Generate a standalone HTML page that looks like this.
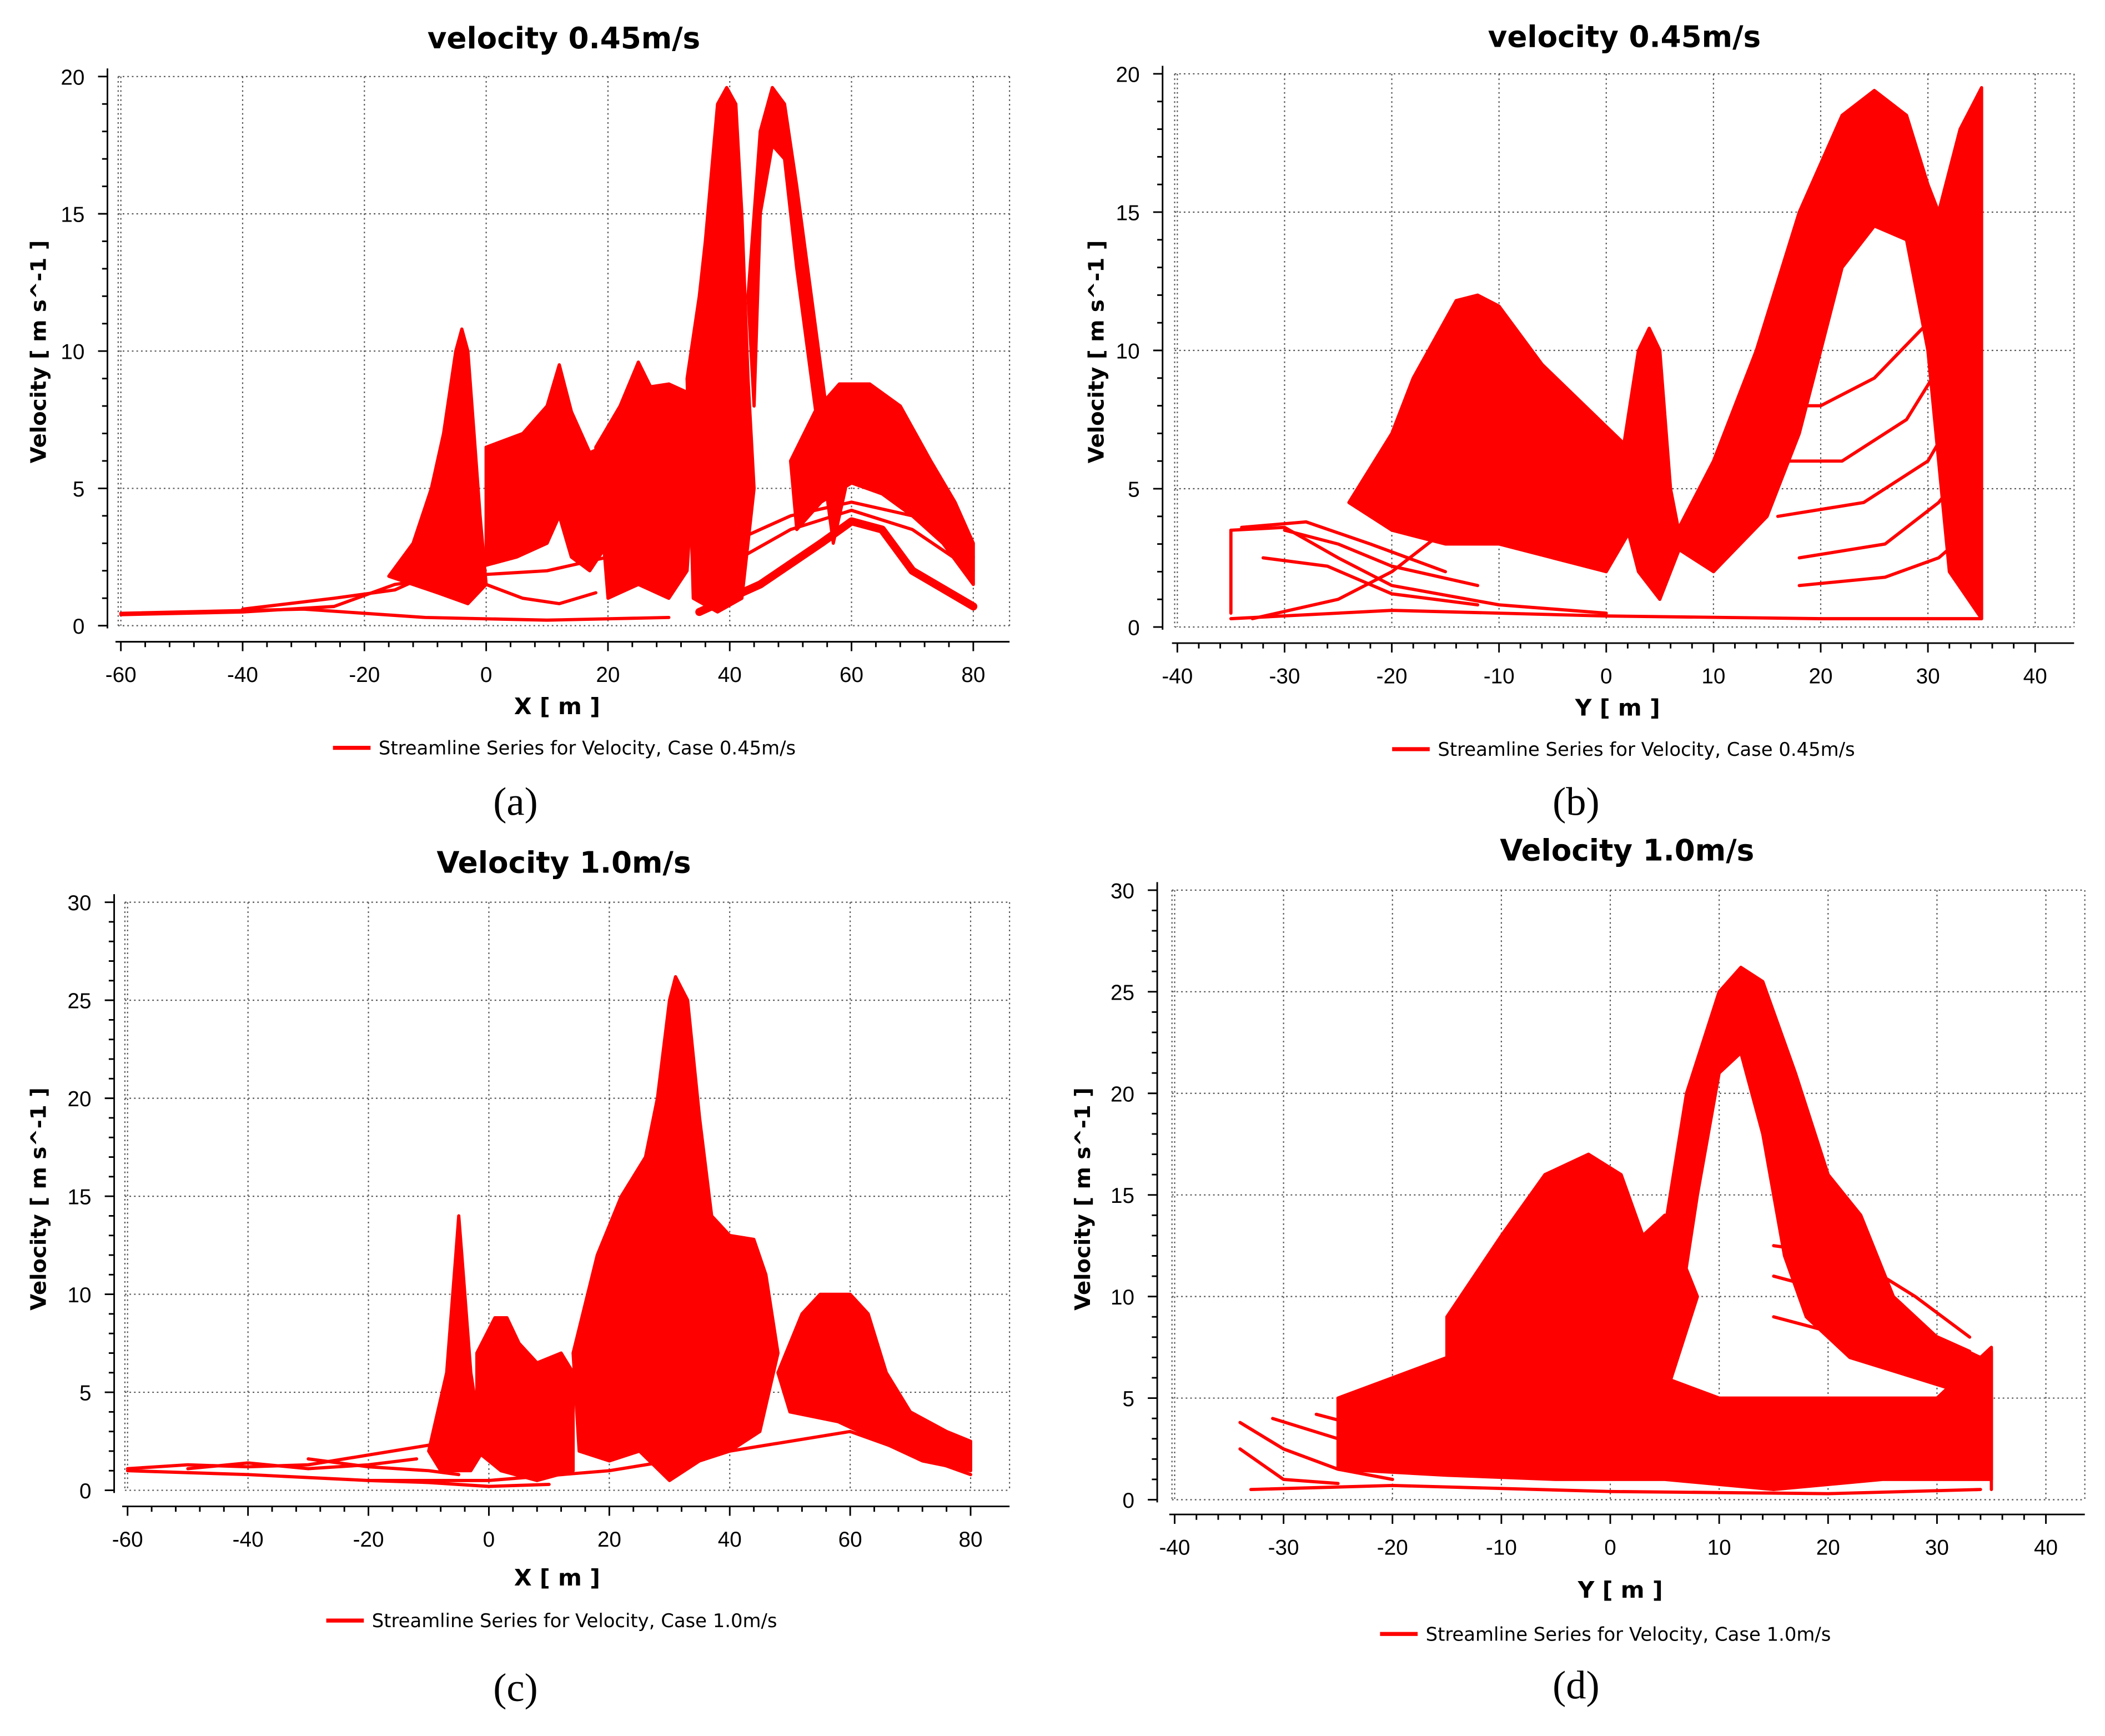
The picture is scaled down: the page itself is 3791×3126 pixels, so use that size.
<!DOCTYPE html>
<html><head><meta charset="utf-8"><style>
html,body{margin:0;padding:0;background:#fff;}
svg{display:block;}
</style></head><body>
<svg id="fig" xmlns="http://www.w3.org/2000/svg" width="3791" height="3126" viewBox="0 0 1568 1293"></svg>
<script>
// ---------- Panel (a) data: X [m] vs Velocity, case 0.45 m/s ----------
const aXTicks = [-60,-40,-20,0,20,40,60,80];
const aYTicks = [0,5,10,15,20];
const aBands = [
 [[-16,1.8],[-12,3],[-9,5],[-7,7],[-5,10],[-4,10.8],[-3,10],[-2,7],[-1,4],[0,1.5],[-3,0.8],[-8,1.2]],
 [[0,6.5],[6,7],[10,8],[12,9.5],[14,7.8],[17,6.3],[20,6.6],[20,3],[17,2],[14,2.5],[12,4],[10,3],[5,2.5],[0,2.2]],
 [[18,6.5],[22,8],[25,9.6],[27,8.7],[30,8.8],[33,8.5],[35,9],[33,2],[30,1],[25,1.5],[20,1]],
 [[33,9],[35,12],[36,14],[38,19],[39.5,19.6],[41,19],[42,15],[43,9],[44,5],[42,1],[38,0.5],[34,1]],
 [[43,12],[45,18],[47,19.6],[49,19],[51,16],[54,11],[57,6],[59,5],[57,3],[54,8],[51,13],[49,17],[47,17.5],[45,15],[44,8]],
 [[50,6],[54,7.8],[58,8.8],[63,8.8],[68,8],[73,6],[77,4.5],[80,3],[80,1.5],[75,3],[70,4],[65,4.8],[60,5.2],[55,4.5],[51,3.5]]
];
const aLines = [
 [[-60,0.4],[-40,0.5],[-25,0.7],[-15,1.5],[-5,1.8],[10,2],[20,2.5]],
 [[-60,0.45],[-30,0.6],[-10,0.3],[10,0.2],[30,0.3]],
 [[-40,0.6],[-25,1],[-15,1.3],[-8,2]],
 [[0,1.5],[6,1],[12,0.8],[18,1.2]],
 [[40,3],[50,4],[60,4.5],[70,4],[80,2.5]],
 [[42,2.5],[50,3.5],[60,4.2],[70,3.5],[80,2]]
];
const aThick = [[35,0.5],[45,1.5],[55,3],[60,3.8],[65,3.5],[70,2],[80,0.7]];

// ---------- Panel (b) data: Y [m] vs Velocity, case 0.45 m/s ----------
const bXTicks = [-40,-30,-20,-10,0,10,20,30,40];
const bYTicks = [0,5,10,15,20];
const bBands = [
 [[-24,4.5],[-20,7],[-18,9],[-14,11.8],[-12,12],[-10,11.6],[-6,9.5],[-2,8],[2,6.5],[3,4],[0,2],[-5,2.5],[-10,3],[-15,3],[-20,3.5]],
 [[1,5],[3,10],[4,10.8],[5,10],[6,5],[7,3],[5,1],[3,2]],
 [[6,3],[10,6],[14,10],[18,15],[22,18.5],[25,19.4],[28,18.5],[30,16],[31,15],[33,18],[35,19.5],[35,0.3],[32,2],[30,10],[28,14],[25,14.5],[22,13],[20,10],[18,7],[15,4],[10,2]]
];
const bLines = [
 [[-35,0.5],[-35,3.5]],
 [[-35,3.5],[-30,3.6],[-25,2.5],[-20,1.5],[-10,0.8],[0,0.5]],
 [[-34,3.6],[-28,3.8],[-22,3],[-15,2]],
 [[-33,0.3],[-25,1],[-20,2],[-15,3.5],[-10,5]],
 [[-32,2.5],[-26,2.2],[-20,1.2],[-12,0.8]],
 [[-30,3.5],[-25,3],[-20,2.2],[-12,1.5]],
 [[-35,0.3],[-20,0.6],[0,0.4],[20,0.3],[35,0.3]],
 [[14,8],[20,8],[25,9],[30,11],[32,12]],
 [[15,6],[22,6],[28,7.5],[32,10]],
 [[16,4],[24,4.5],[30,6],[33,8]],
 [[18,2.5],[26,3],[31,4.5],[34,6]],
 [[18,1.5],[26,1.8],[31,2.5],[34,3.5]],
 [[-12,3],[-10,5],[-6,5.5],[-2,4]],
 [[-14,3],[-10,4.5],[-6,4.8],[-2,3]]
];

// ---------- Panel (c) data: X [m] vs Velocity, case 1.0 m/s ----------
const cXTicks = [-60,-40,-20,0,20,40,60,80];
const cYTicks = [0,5,10,15,20,25,30];
const cBands = [
 [[-10,2],[-7,6],[-5.5,12],[-5,14],[-4.5,12],[-3,6],[-1,2],[-3,1],[-8,1]],
 [[-2,7],[1,8.8],[3,8.8],[5,7.5],[8,6.5],[12,7],[14,6],[14,1],[8,0.5],[2,1],[-2,2]],
 [[14,7],[18,12],[22,15],[26,17],[28,20],[30,25],[31,26.2],[33,25],[35,19],[37,14],[40,13],[44,12.8],[46,11],[48,7],[45,3],[40,2],[35,1.5],[30,0.5],[25,2],[20,1.5],[15,2]],
 [[48,6],[52,9],[55,10],[60,10],[63,9],[66,6],[70,4],[76,3],[80,2.5],[80,1],[72,1.5],[65,2.5],[58,3.5],[50,4]]
];
const cLines = [
 [[-60,1.1],[-50,1.3],[-40,1.2],[-30,1.3],[-20,1.8],[-10,2.3]],
 [[-60,1],[-40,0.8],[-20,0.5],[-10,0.4],[0,0.2],[10,0.3]],
 [[-50,1.1],[-40,1.4],[-30,1.1],[-20,1.3],[-12,1.6]],
 [[-20,0.5],[0,0.5],[20,1],[40,2],[60,3],[80,0.8]],
 [[5,6],[10,5.5],[14,6]],
 [[5,4.5],[10,4],[14,4.5]],
 [[5,3],[10,2.5],[14,3]],
 [[-30,1.6],[-20,1.2],[-10,1],[-5,0.8]]
];

// ---------- Panel (d) data: Y [m] vs Velocity, case 1.0 m/s ----------
const dXTicks = [-40,-30,-20,-10,0,10,20,30,40];
const dYTicks = [0,5,10,15,20,25,30];
const dBands = [
 [[-15,9],[-10,13],[-6,16],[-2,17],[1,16],[3,13],[5,14],[8,10],[5,5],[0,4],[-5,3],[-10,4],[-15,5]],
 [[4,10],[7,20],[10,25],[12,26.2],[14,25.5],[17,21],[20,16],[23,14],[26,10],[30,8],[34,7],[34,5],[28,6],[22,7],[18,9],[16,12],[14,18],[12,22],[10,21],[8,15],[6,8]],
 [[-25,5],[-20,6],[-15,7],[-5,7],[0,6],[5,6],[10,5],[20,5],[30,5],[35,7.5],[35,1],[25,1],[15,0.5],[5,1],[-5,1],[-15,1.2],[-25,1.5]]
];
const dLines = [
 [[-34,3.8],[-30,2.5],[-25,1.5],[-20,1]],
 [[-34,2.5],[-30,1],[-25,0.8]],
 [[-31,4],[-25,3],[-20,2]],
 [[-27,4.2],[-22,3.5],[-18,3]],
 [[15,12.5],[22,12],[28,10],[33,8]],
 [[15,11],[22,10],[28,8.5],[33,7.3]],
 [[15,9],[22,8],[30,7]],
 [[-33,0.5],[-20,0.7],[0,0.4],[20,0.3],[34,0.5]],
 [[35,0.5],[35,7.3]]
];

const NS = 'http://www.w3.org/2000/svg';
const fig = document.getElementById('fig');
function mk(tag, attrs, parent){
  const e = document.createElementNS(NS, tag);
  for (const k in attrs) e.setAttribute(k, attrs[k]);
  (parent||fig).appendChild(e);
  return e;
}

function panel(cfg){
  const g = mk('g', {});
  
  
  const xT = cfg.xTicks, yT = cfg.yTicks;
  const xmin = xT[0], xmax = xT[xT.length-1], ymax = yT[yT.length-1];
  const X = v => cfg.px0 + (v - xmin) / (xmax - xmin) * (cfg.px1 - cfg.px0);
  const Y = v => cfg.py0 - v / ymax * (cfg.py0 - cfg.py1);
  const top = Y(ymax), bot = cfg.py0, left = X(xmin) - 2, right = cfg.boxRight;
  const grid = mk('g', {stroke:'#555', 'stroke-width':0.9, 'stroke-dasharray':'1.2 2.2', fill:'none'}, g);
  
  
  xT.forEach(v => mk('line', {x1:X(v), x2:X(v), y1:top, y2:bot}, grid));
  yT.forEach(v => mk('line', {x1:left, x2:right, y1:Y(v), y2:Y(v)}, grid));
  mk('line', {x1:right, x2:right, y1:top, y2:bot}, grid);
  mk('line', {x1:left, x2:left, y1:top, y2:bot}, grid);
  const ya = mk('g', {stroke:'#000', 'stroke-width':1.2}, g);
  
  
  mk('line', {x1:cfg.yAxisX, x2:cfg.yAxisX, y1:top-6, y2:bot+2}, ya);
  const ystep = yT[1]-yT[0];
  for (let i=0;i<yT.length;i++){
    mk('line', {x1:cfg.yAxisX-7, x2:cfg.yAxisX, y1:Y(yT[i]), y2:Y(yT[i])}, ya);
    if (i<yT.length-1) for (let m=1;m<5;m++){
      const yy = Y(yT[i]+ystep*m/5);
      mk('line', {x1:cfg.yAxisX-4, x2:cfg.yAxisX, y1:yy, y2:yy}, ya);
    }
    const t = mk('text', {x:cfg.yAxisX-17, y:Y(yT[i])+6, 'text-anchor':'end', 'font-family':'"Liberation Sans", sans-serif', 'font-size':16, stroke:'none', fill:'#000'}, g);
    t.textContent = yT[i];
    
    
  }
  const xa = mk('g', {stroke:'#000', 'stroke-width':1.2}, g);
  
  
  mk('line', {x1:X(xmin)-4, x2:right, y1:cfg.xAxisY, y2:cfg.xAxisY}, xa);
  const xstep = xT[1]-xT[0];
  for (let i=0;i<xT.length;i++){
    mk('line', {x1:X(xT[i]), x2:X(xT[i]), y1:cfg.xAxisY, y2:cfg.xAxisY+7}, xa);
    if (i<xT.length-1) for (let m=1;m<5;m++){
      const xx = X(xT[i]+xstep*m/5);
      mk('line', {x1:xx, x2:xx, y1:cfg.xAxisY, y2:cfg.xAxisY+4}, xa);
    }
    const t = mk('text', {x:X(xT[i]), y:cfg.xAxisY+30, 'text-anchor':'middle', 'font-family':'"Liberation Sans", sans-serif', 'font-size':16, fill:'#000'}, g);
    t.textContent = xT[i];
    
    
  }
  const dg = mk('g', {fill:'#ff0000', stroke:'#ff0000', 'stroke-width':2.4, 'stroke-linejoin':'round', 'stroke-linecap':'round'}, g);
  
  
  const pts = arr => arr.map(p => X(p[0]).toFixed(1)+','+Y(p[1]).toFixed(1)).join(' ');
  cfg.bands.forEach(b => {
    const e = mk('polygon', {points:pts(b)}, dg);
    
    
  });
  cfg.lines.forEach(l => {
    const e = mk('polyline', {points:pts(l), fill:'none'}, dg);
    
    
  });
  if (cfg.thick){
    const e = mk('polyline', {points:pts(cfg.thick), fill:'none', 'stroke-width':6}, dg);
    
    
  }
  const title = mk('text', {x:cfg.titleX, y:cfg.titleY, 'text-anchor':'middle', 'font-family':'"DejaVu Sans", "Liberation Sans", sans-serif', 'font-weight':'bold', 'font-size':22, fill:'#000'}, g);
  title.textContent = cfg.title;
  
  
  const xl = mk('text', {x:cfg.xlabX, y:cfg.xlabY, 'text-anchor':'middle', 'font-family':'"DejaVu Sans", "Liberation Sans", sans-serif', 'font-weight':'bold', 'font-size':17, fill:'#000'}, g);
  xl.textContent = cfg.xlab;
  
  
  const yl = mk('text', {x:0, y:0, transform:`translate(${cfg.ylabX},${cfg.ylabY}) rotate(-90)`, 'text-anchor':'middle', 'font-family':'"DejaVu Sans", "Liberation Sans", sans-serif', 'font-weight':'bold', 'font-size':16, fill:'#000'}, g);
  yl.textContent = 'Velocity [ m s^-1 ]';
  
  
  const lg = mk('g', {}, g);
  
  
  mk('line', {x1:cfg.legX, x2:cfg.legX+28, y1:cfg.legY, y2:cfg.legY, stroke:'#ff0000', 'stroke-width':3}, lg);
  const lt = mk('text', {x:cfg.legX+34, y:cfg.legY+5, 'font-family':'"DejaVu Sans", "Liberation Sans", sans-serif', 'font-size':14, fill:'#000'}, lg);
  lt.textContent = cfg.legend;
  const cap = mk('text', {x:cfg.capX, y:cfg.capY, 'text-anchor':'middle', 'font-family':'"Liberation Serif", serif', 'font-size':30, fill:'#000'}, g);
  cap.textContent = cfg.caption;
  
  
}

panel({id:'panel-a', xTicks:aXTicks, yTicks:aYTicks, bands:aBands, lines:aLines, thick:aThick,
  px0:90, px1:725, py0:466, py1:57, boxRight:752, yAxisX:80, xAxisY:478,
  title:'velocity  0.45m/s', titleX:420, titleY:36, xlab:'X [ m ]', xlabX:415, xlabY:532,
  ylabX:34, ylabY:262, legX:248, legY:557, legend:'Streamline Series for Velocity, Case 0.45m/s',
  caption:'(a)', capX:384, capY:607});
panel({id:'panel-b', xTicks:bXTicks, yTicks:bYTicks, bands:bBands, lines:bLines,
  px0:877, px1:1516, py0:467, py1:55, boxRight:1545, yAxisX:866, xAxisY:479,
  title:'velocity  0.45m/s', titleX:1210, titleY:35, xlab:'Y [ m ]', xlabX:1205, xlabY:533,
  ylabX:822, ylabY:262, legX:1037, legY:558, legend:'Streamline Series for Velocity, Case 0.45m/s',
  caption:'(b)', capX:1174, capY:607});
panel({id:'panel-c', xTicks:cXTicks, yTicks:cYTicks, bands:cBands, lines:cLines,
  px0:95, px1:723, py0:1110, py1:672, boxRight:752, yAxisX:85, xAxisY:1122,
  title:'Velocity 1.0m/s', titleX:420, titleY:650, xlab:'X [ m ]', xlabX:415, xlabY:1181,
  ylabX:34, ylabY:893, legX:243, legY:1207, legend:'Streamline Series for Velocity, Case 1.0m/s',
  caption:'(c)', capX:384, capY:1267});
panel({id:'panel-d', xTicks:dXTicks, yTicks:dYTicks, bands:dBands, lines:dLines,
  px0:875, px1:1524, py0:1117, py1:663, boxRight:1553, yAxisX:862, xAxisY:1128,
  title:'Velocity 1.0m/s', titleX:1212, titleY:641, xlab:'Y [ m ]', xlabX:1207, xlabY:1190,
  ylabX:812, ylabY:893, legX:1028, legY:1217, legend:'Streamline Series for Velocity, Case 1.0m/s',
  caption:'(d)', capX:1174, capY:1265});
</script>
</body></html>
